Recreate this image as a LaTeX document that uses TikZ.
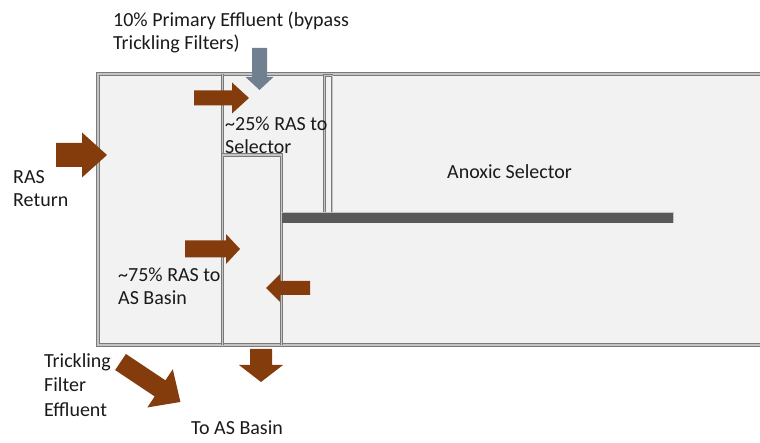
\documentclass[tikz,border=0pt]{standalone}
\usepackage{fontspec}
\setmainfont{Carlito}
\definecolor{tankfill}{HTML}{F2F2F2}
\definecolor{wallgray}{HTML}{7A7A7A}
\definecolor{walllight}{HTML}{C4C4C4}
\definecolor{bardark}{HTML}{595959}
\definecolor{flowbrown}{HTML}{843C0C}
\definecolor{flowgray}{HTML}{708090}
\definecolor{txt}{HTML}{1A1A1A}
% block arrow: [style] tail-x tail-y angle length shaft-half head-half head-length
\newcommand\blkarrow[8][brownflow]{%
  \fill[#1,shift={(#2,#3)},rotate=#4]
    (0,-#6) -- ({#5-#8},-#6) -- ({#5-#8},-#7) -- (#5,0)
    -- ({#5-#8},#7) -- ({#5-#8},#6) -- (0,#6) -- cycle;}
\begin{document}
\begin{tikzpicture}[x=1pt,y=-1pt,
  wall/.style={draw=wallgray,double=walllight,double distance=1.2pt,line width=1.1pt},
  thinwall/.style={draw=wallgray,double=walllight,double distance=0.9pt,line width=0.9pt},
  brownflow/.style={fill=flowbrown},
  grayflow/.style={fill=flowgray},
  lbl/.style={font=\fontsize{20}{23}\selectfont,text=txt,inner sep=0pt,anchor=west,align=left}]
\useasboundingbox (0,0) rectangle (760,443);
\clip (0,0) rectangle (760,443);

% tank body
\fill[tankfill] (98,74) rectangle (780,345);
\draw[wall] (780,74) -- (98,74) -- (98,345) -- (780,345);
% dividing wall and RAS channel
\draw[wall] (222.5,74) -- (222.5,345);
\draw[wall] (222.5,345) -- (222.5,155) -- (281.5,155) -- (281.5,345);
% thin baffle
\draw[thinwall] (324.5,75.5) rectangle (332,213);
% horizontal wall
\fill[bardark] (282,212) rectangle (673,223);
\draw[walllight,line width=0.6pt] (282,212) -- (673,212) -- (673,223);

% flows (angles measured clockwise from the right)
\blkarrow{56}{155}{0}{51}{12}{22.5}{25}
\blkarrow{194}{98}{0}{55}{7.5}{15.5}{17}
\blkarrow[grayflow]{259.5}{48}{-90}{42}{7.5}{14}{13}
\blkarrow{185}{249}{0}{55}{8.5}{15}{14}
\blkarrow{310}{288}{180}{44}{7}{14}{14}
\blkarrow{261}{349}{-90}{33}{11}{22}{17}
\blkarrow{120.5}{362}{-33.7}{72}{9.7}{23}{24.5}

% labels
\node[lbl] (pe) at (113,32) {10\% Primary Effluent (bypass\\Trickling Filters)};
\node[lbl] (sel) at (225,135) {\textasciitilde25\% RAS to\\Selector};
\node[lbl] (ras) at (13,188.5) {RAS\\Return};
\node[lbl] (anox) at (447,172) {Anoxic Selector};
\node[lbl] (asb) at (118,286) {\textasciitilde75\% RAS to\\AS Basin};
\node[lbl,font=\fontsize{20}{24.5}\selectfont] (tfe) at (44,385) {Trickling\\Filter\\Effluent};
\node[lbl] (to) at (191,428) {To AS Basin};
\end{tikzpicture}
\end{document}
